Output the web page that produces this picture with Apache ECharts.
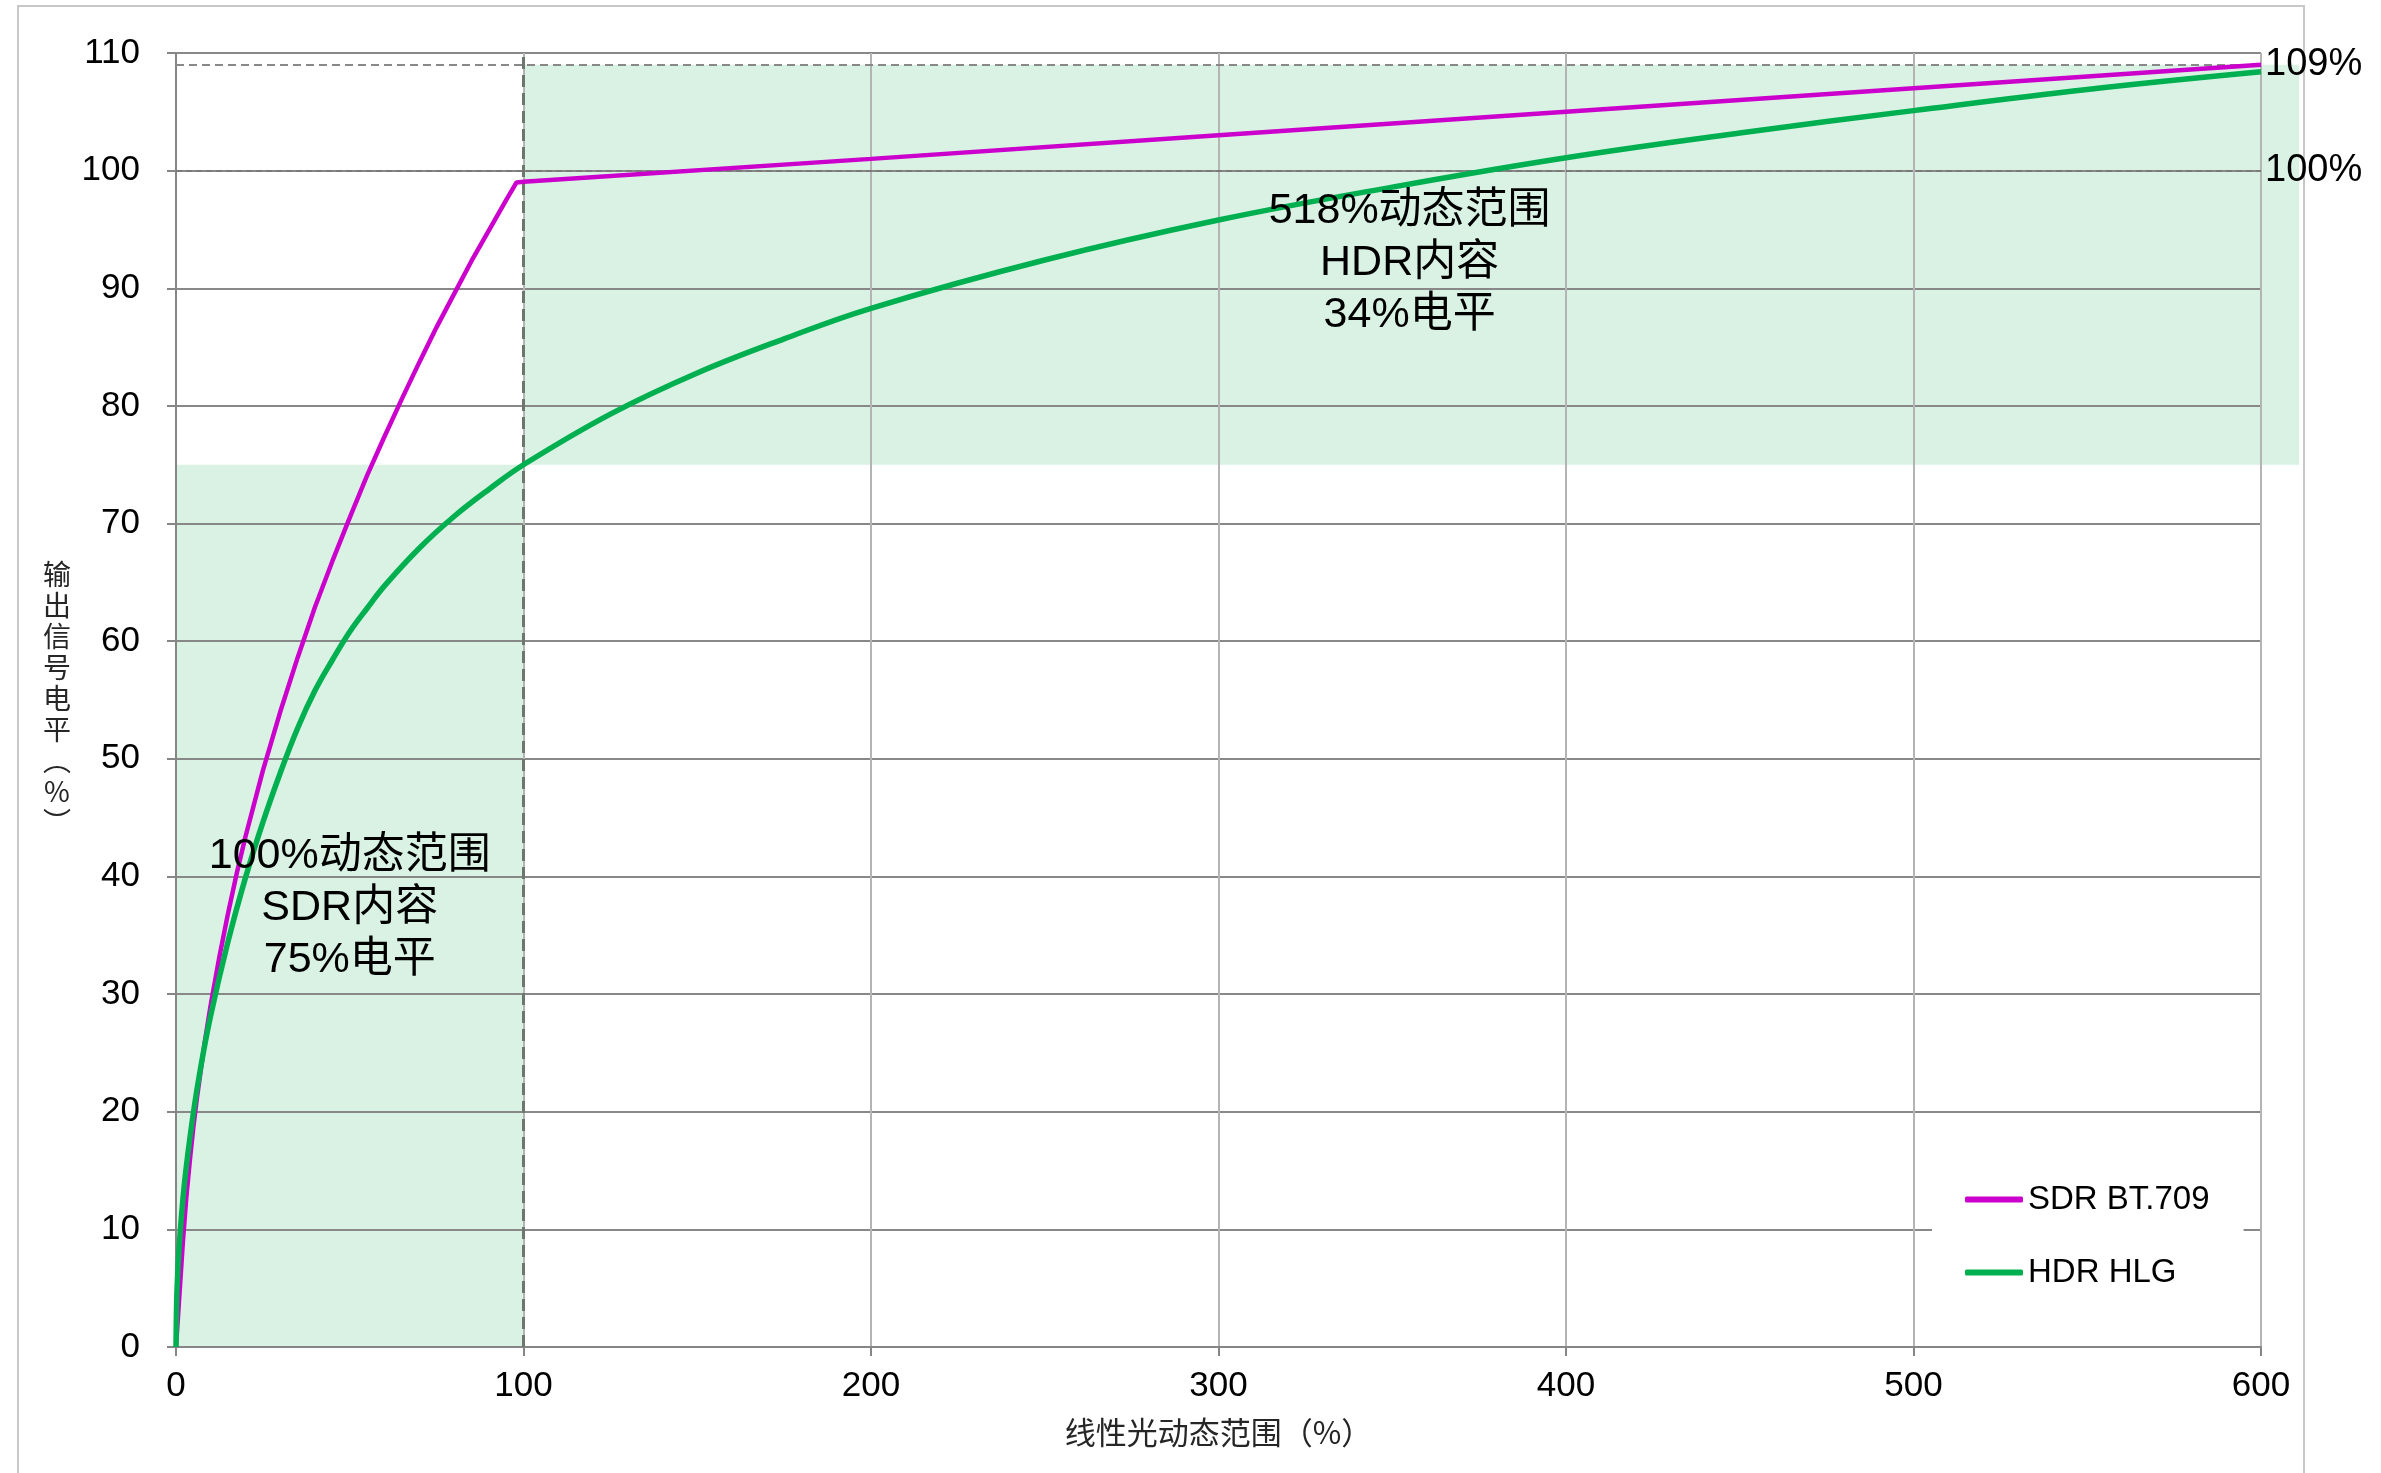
<!DOCTYPE html>
<html>
<head>
<meta charset="utf-8">
<script src="https://cdn.jsdelivr.net/npm/echarts@6/dist/echarts.min.js"></script>
<style>html,body{margin:0;padding:0;background:#fff;}#c{width:2381px;height:1473px;}</style>
</head>
<body>
<div id="c"></div>
<script>
// ---- data ----
const xTicks = [0, 100, 200, 300, 400, 500, 600];
const yTicks = [0, 10, 20, 30, 40, 50, 60, 70, 80, 90, 100, 110];
const seriesNames = ['SDR BT.709', 'HDR HLG'];

const sdrX = [0, 1, 1.8, 2, 3, 4, 5, 6, 8, 10, 12.5, 15, 17.5, 20, 25, 30, 35, 40, 45, 50, 55, 60, 65, 70, 75, 80, 85, 90, 95, 98, 100, 200, 300, 400, 500, 600];
const sdrY = [0, 4.5, 8.1, 9.0, 12.8, 15.9, 18.7, 21.1, 25.4, 29.1, 33.2, 36.9, 40.3, 43.4, 49.0, 54.0, 58.6, 62.9, 66.8, 70.5, 74.1, 77.4, 80.6, 83.7, 86.7, 89.5, 92.3, 94.9, 97.5, 99.0, 99.05, 101.0, 103.0, 105.0, 107.0, 109.0];

const hlgX = [0, 0.2, 0.5, 1, 2, 3, 5, 7, 10, 15, 20, 25, 30, 35, 40, 45, 50, 55, 60, 70, 80, 90, 100, 125, 150, 175, 200, 250, 300, 350, 400, 450, 500, 550, 600];
const hlgY = [0, 4.0, 6.3, 8.9, 12.6, 15.4, 19.9, 23.6, 28.2, 34.5, 39.9, 44.6, 48.8, 52.6, 55.8, 58.4, 60.8, 62.8, 64.7, 67.9, 70.6, 72.9, 75.0, 79.3, 82.8, 85.7, 88.3, 92.4, 95.8, 98.6, 101.1, 103.2, 105.1, 106.9, 108.4];

// shaded zones: [xStart, xEnd, yStart, yEnd]
const shadeZones = [[0, 100, 0, 75], [100, 611, 75, 109]];
// reference levels
const refLevels = [100, 109];
const refLabels = ['100%', '109%'];
const kneeX = 100;
// annotations: [x, y, text]
const notes = [
  [50, 37.3, '100%动态范围\nSDR内容\n75%电平'],
  [355, 92.1, '518%动态范围\nHDR内容\n34%电平']
];
const xTitle = '线性光动态范围（%）';
const yTitle = '输\n出\n信\n号\n电\n平\n︵\n%\n︶';

// ---- chart ----
const FONT = "'Liberation Sans', Arial, 'Noto Sans CJK SC', sans-serif";
const CJK = "'Noto Sans CJK SC', 'Liberation Sans', sans-serif";
const chart = echarts.init(document.getElementById('c'), null, {renderer: 'canvas'});

const pairs = (xs, ys) => xs.map((x, i) => [x, ys[i]]);

const option = {
  animation: false,
  backgroundColor: '#fff',
  grid: {left: 176, right: 120, top: 53, bottom: 126},
  xAxis: {
    type: 'value', min: xTicks[0], max: xTicks[xTicks.length - 1], interval: 100,
    axisLine: {show: true, lineStyle: {color: '#868686', width: 2}},
    axisTick: {show: true, length: 9, lineStyle: {color: '#868686', width: 2}},
    axisLabel: {fontSize: 35, margin: 22, color: '#000', fontFamily: FONT},
    splitLine: {show: true, lineStyle: {color: '#b4b4b4', width: 2}},
    name: xTitle, nameLocation: 'middle', nameGap: 70,
    nameTextStyle: {fontSize: 31, color: '#262626', fontFamily: CJK}
  },
  yAxis: {
    type: 'value', min: yTicks[0], max: yTicks[yTicks.length - 1], interval: 10,
    axisLine: {show: true, lineStyle: {color: '#868686', width: 2}},
    axisTick: {show: true, length: 9, lineStyle: {color: '#868686', width: 2}},
    axisLabel: {fontSize: 35, margin: 36, color: '#000', fontFamily: FONT},
    splitLine: {show: true, lineStyle: {color: '#888888', width: 2}}
  },
  legend: {
    data: seriesNames,
    orient: 'vertical', left: 1932, top: 1150,
    backgroundColor: '#fff',
    padding: [33, 34, 33, 33],
    itemWidth: 58, itemHeight: 6, itemGap: 40,
    icon: 'roundRect',
    textStyle: {fontSize: 33, color: '#000', fontFamily: FONT}
  },
  graphic: [
    {type: 'rect', shape: {x: 18, y: 6, width: 2286, height: 1520}, style: {fill: 'none', stroke: '#c8c8c8', lineWidth: 2}, z: -10, silent: true},
    {type: 'text', x: 57, y: 698, style: {text: yTitle, fontSize: 28, fontFamily: CJK, fill: '#262626', align: 'center', verticalAlign: 'middle', lineHeight: 31}}
  ],
  series: [
    {
      type: 'custom', name: 'shade', z: -1, clip: false, silent: true,
      data: shadeZones,
      encode: {x: [0, 1], y: [2, 3]},
      renderItem: function (params, api) {
        const p0 = api.coord([api.value(0), api.value(3)]);
        const p1 = api.coord([api.value(1), api.value(2)]);
        return {type: 'rect', shape: {x: p0[0], y: p0[1], width: p1[0] - p0[0], height: p1[1] - p0[1]}, style: {fill: '#d9f2e4'}};
      }
    },
    {
      type: 'line', name: seriesNames[0], data: pairs(sdrX, sdrY), symbol: 'none', z: 3,
      itemStyle: {color: '#cc00cc'}, lineStyle: {color: '#cc00cc', width: 4.5},
      markLine: {
        silent: true, symbol: ['none', 'none'], z: 2,
        data: [
          [{coord: [0, refLevels[0]], lineStyle: {color: '#7a7a7a', width: 2, type: [6, 4]}, label: {show: true, position: 'end', formatter: refLabels[0], fontSize: 38, color: '#000', fontFamily: FONT, distance: 4}}, {coord: [600, refLevels[0]]}],
          [{coord: [0, refLevels[1]], lineStyle: {color: '#888888', width: 2, type: [8, 5]}, label: {show: true, position: 'end', formatter: refLabels[1], fontSize: 38, color: '#000', fontFamily: FONT, distance: 4}}, {coord: [600, refLevels[1]]}],
          [{coord: [kneeX, 0], lineStyle: {color: '#6e776e', width: 3, type: [12, 6]}, label: {show: false}}, {coord: [kneeX, 110]}]
        ]
      },
      markPoint: {
        silent: true, symbol: 'circle', symbolSize: 0,
        data: notes.map(n => ({coord: [n[0], n[1]], label: {show: true, position: 'inside', formatter: n[2], fontSize: 43, lineHeight: 52, color: '#000', fontFamily: FONT}}))
      }
    },
    {
      type: 'line', name: seriesNames[1], data: pairs(hlgX, hlgY), symbol: 'none', z: 4,
      smooth: 0.4,
      itemStyle: {color: '#00b050'}, lineStyle: {color: '#00b050', width: 5.5}
    }
  ]
};
chart.setOption(option);
</script>
</body>
</html>
